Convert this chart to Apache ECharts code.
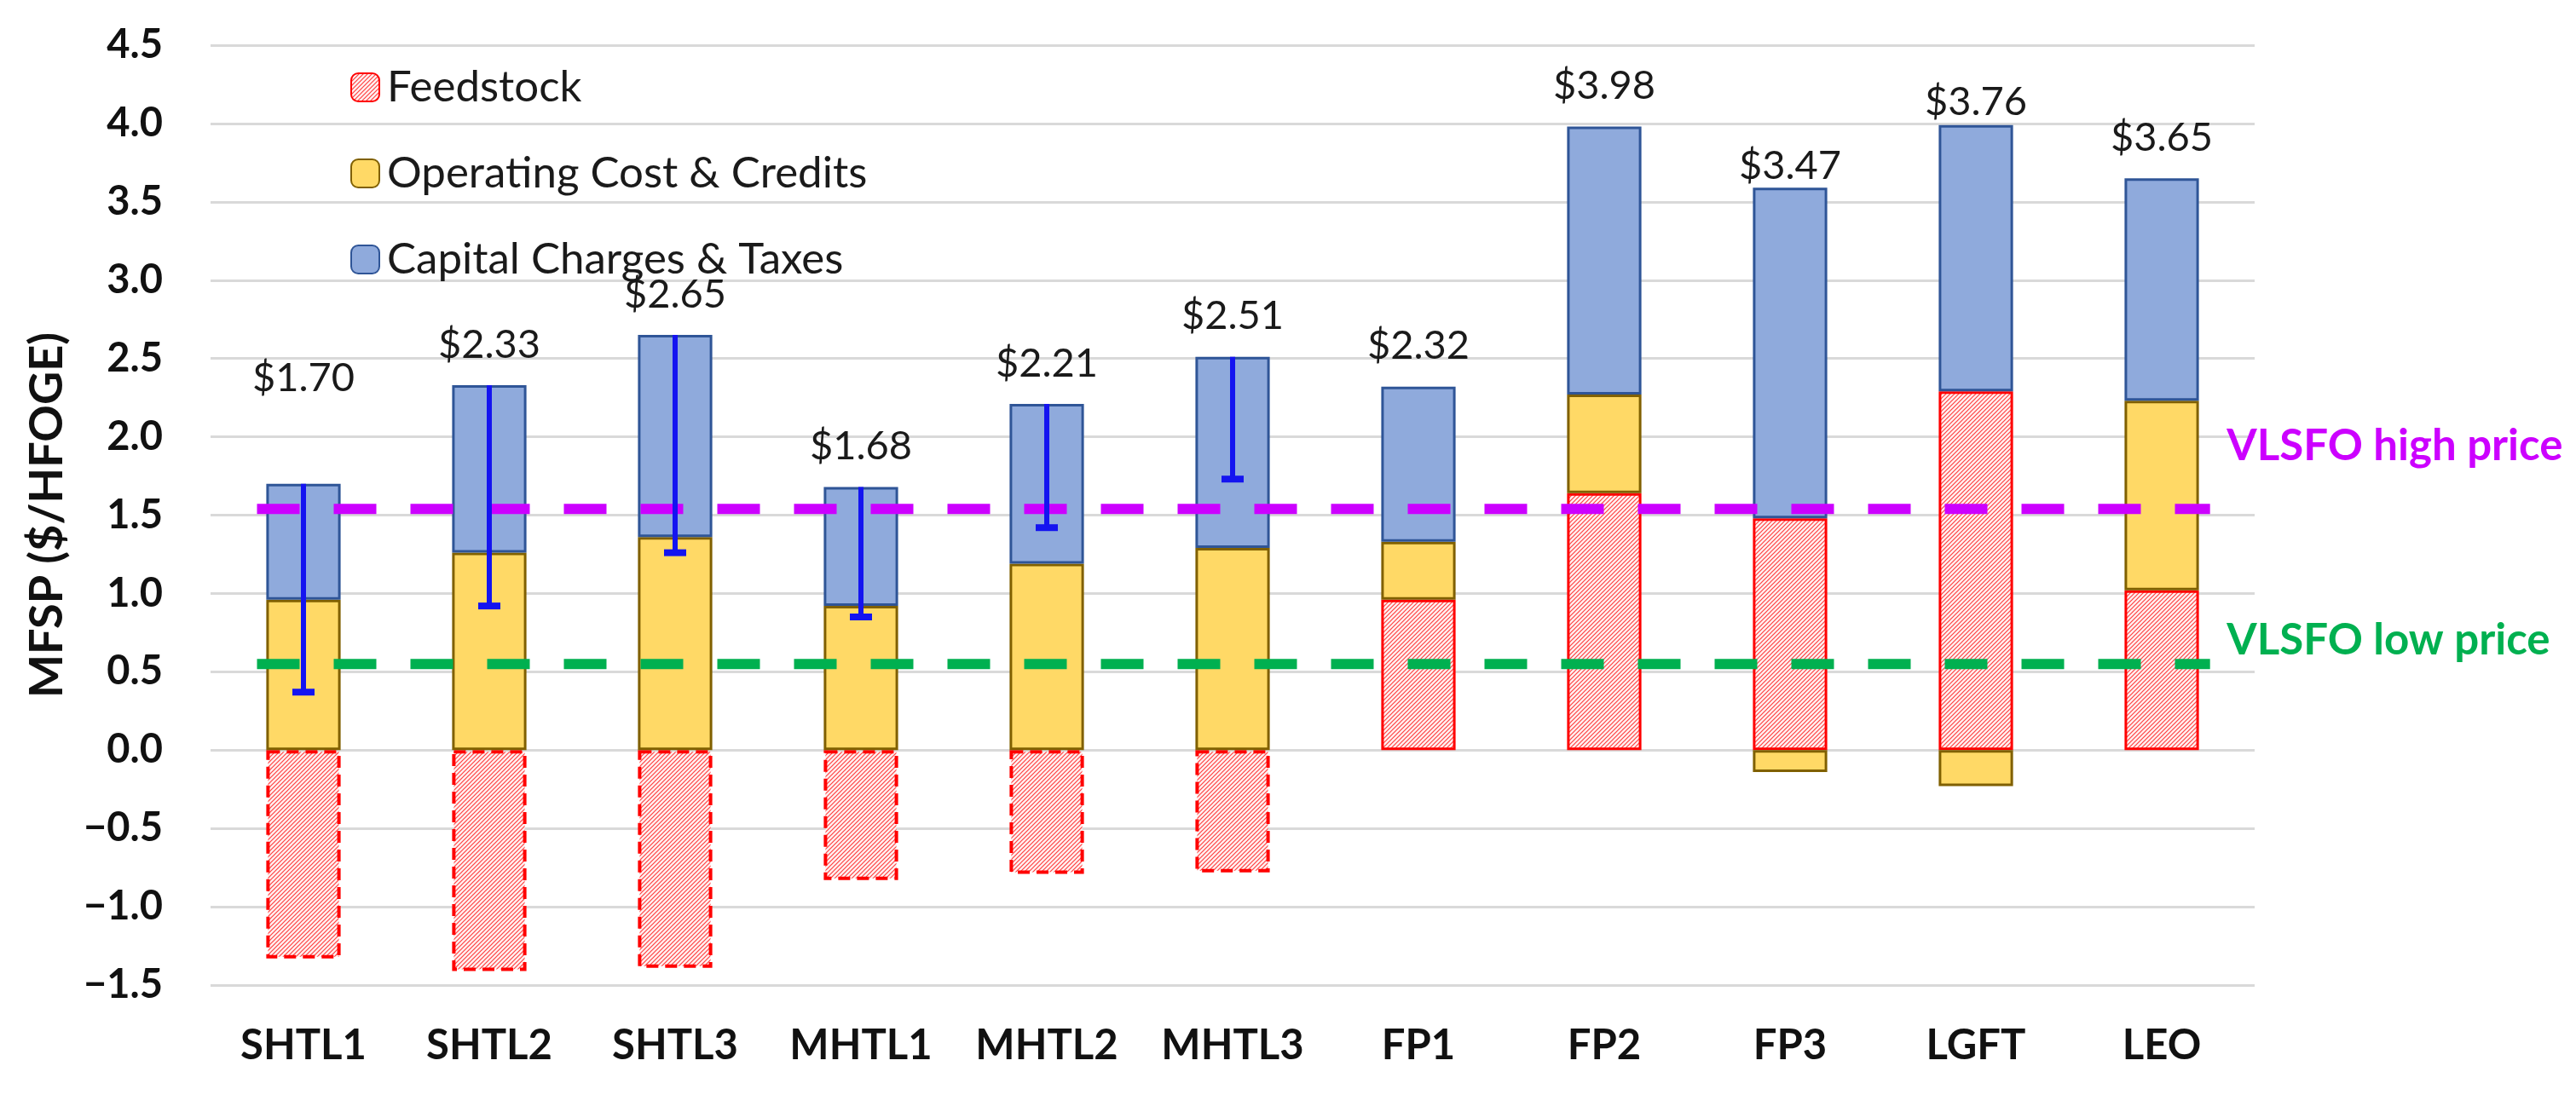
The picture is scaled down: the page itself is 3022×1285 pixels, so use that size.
<!DOCTYPE html>
<html>
<head>
<meta charset="utf-8">
<title>MFSP breakdown</title>
<script src="https://cdn.jsdelivr.net/npm/echarts@6/dist/echarts.min.js"></script>
<style>
  html, body { margin: 0; padding: 0; background: #fff; }
  #main { width: 3022px; height: 1285px; }
</style>
</head>
<body>
<div id="main"></div>
<script>
// data
var categories = ['SHTL1', 'SHTL2', 'SHTL3', 'MHTL1', 'MHTL2', 'MHTL3', 'FP1', 'FP2', 'FP3', 'LGFT', 'LEO'];
var feedstock = [-1.33, -1.41, -1.39, -0.83, -0.79, -0.78, 0.96, 1.64, 1.48, 2.29, 1.02];
var operating = [0.96, 1.26, 1.36, 0.92, 1.19, 1.29, 0.37, 0.63, -0.14, -0.23, 1.21];
var capital = [0.74, 1.07, 1.29, 0.76, 1.02, 1.22, 0.99, 1.71, 2.11, 1.70, 1.42];
var priceLabels = ['$1.70', '$2.33', '$2.65', '$1.68', '$2.21', '$2.51', '$2.32', '$3.98', '$3.47', '$3.76', '$3.65'];
var refValues = [1.54, 0.55];
var refNames = ['VLSFO high price', 'VLSFO low price'];
var yTicks = [-1.5, -1.0, -0.5, 0.0, 0.5, 1.0, 1.5, 2.0, 2.5, 3.0, 3.5, 4.0, 4.5];

var FONT = 'Lato';
var refColors = ['#CC00FF', '#00B050'];
var refTextAt = [1.94, 0.70];       // where the line captions sit (axis units)
var labelGap = { SHTL1: 100, FP3: 2, LGFT: 3 };   // hand-placed labels in the original

// red hatch for the feedstock bars
function hatch() {
  var n = 5;
  var c = document.createElement('canvas');
  c.width = n; c.height = n;
  var g = c.getContext('2d');
  g.fillStyle = '#fff2f2';
  g.fillRect(0, 0, n, n);
  g.strokeStyle = '#ff4040';
  g.lineWidth = 1.2;
  g.beginPath();
  g.moveTo(0, n); g.lineTo(n, 0);
  g.moveTo(-1, 1); g.lineTo(1, -1);
  g.moveTo(n - 1, n + 1); g.lineTo(n + 1, n - 1);
  g.stroke();
  return c;
}
var hatchFill = { image: hatch(), repeat: 'repeat' };

// positive stack top and net value, for the error bars
var errData = [];
categories.forEach(function (c, i) {
  if (feedstock[i] < 0) {
    var top = Math.max(operating[i], 0) + capital[i];
    var net = top + feedstock[i];
    errData.push([i, top, net]);
  }
});

var myChart = echarts.init(document.getElementById('main'));

var option = {
  animation: false,
  grid: { left: 247, right: 377, top: 53, bottom: 129 },
  legend: {
    orient: 'vertical',
    left: 406,
    top: 72,
    itemWidth: 33,
    itemHeight: 33,
    itemGap: 50,
    textStyle: { fontFamily: FONT, fontSize: 51, color: '#1a1a1a', lineHeight: 44, padding: [0, 0, 0, 4] },
    data: ['Feedstock', 'Operating Cost & Credits', 'Capital Charges & Taxes']
  },
  xAxis: {
    type: 'category',
    data: categories,
    position: 'bottom',
    axisLine: { show: false, onZero: false },
    axisTick: { show: false },
    axisLabel: { interval: 0, fontFamily: FONT, fontWeight: 'bold', fontSize: 49, color: '#111', margin: 47 }
  },
  yAxis: {
    type: 'value',
    min: -1.5,
    max: 4.5,
    interval: 0.5,
    name: 'MFSP ($/HFOGE)',
    nameLocation: 'middle',
    nameGap: 164,
    nameTextStyle: { fontFamily: FONT, fontWeight: 'bold', fontSize: 54, color: '#111' },
    axisLine: { show: false },
    axisTick: { show: false },
    splitLine: { lineStyle: { color: '#D9D9D9', width: 3 } },
    axisLabel: {
      fontFamily: FONT, fontWeight: 'bold', fontSize: 47, color: '#111', margin: 56,
      formatter: function (v) {
        var s = Math.abs(v).toFixed(1);
        return v < 0 ? '\u2212' + s : s;
      }
    }
  },
  series: [
    {
      name: 'Feedstock',
      type: 'bar',
      stack: 'mfsp',
      barWidth: '40%',
      itemStyle: { color: hatchFill, borderColor: '#FF0000', borderWidth: 3 },
      data: feedstock.map(function (v) {
        return { value: v, itemStyle: { borderType: v < 0 ? [14, 8] : 'solid', borderWidth: v < 0 ? 4 : 3 } };
      })
    },
    {
      name: 'Operating Cost & Credits',
      type: 'bar',
      stack: 'mfsp',
      itemStyle: { color: '#FFD966', borderColor: '#806000', borderWidth: 3 },
      data: operating
    },
    {
      name: 'Capital Charges & Taxes',
      type: 'bar',
      stack: 'mfsp',
      itemStyle: { color: '#8FAADC', borderColor: '#2F5597', borderWidth: 3 },
      data: capital.map(function (v, i) {
        var d = labelGap[categories[i]];
        return {
          value: v,
          label: {
            show: true,
            position: 'top',
            distance: d === undefined ? 24 : d,
            formatter: priceLabels[i],
            fontFamily: FONT,
            fontSize: 47,
            color: '#1a1a1a'
          }
        };
      })
    },
    {
      name: 'refLines',
      type: 'custom',
      z: 5,
      silent: true,
      data: refValues.map(function (v, i) { return [i, v]; }),
      encode: { x: 0, y: 1 },
      renderItem: function (params, api) {
        var i = api.value(0);
        var v = api.value(1);
        var band = api.size([1, 0])[0];
        var first = api.coord([0, v]);
        var last = api.coord([categories.length - 1, v]);
        var ty = api.coord([0, refTextAt[i]])[1];
        return {
          type: 'group',
          children: [
            {
              type: 'line',
              shape: { x1: first[0] - 0.25 * band, y1: first[1], x2: last[0] + 0.26 * band, y2: last[1] },
              style: { stroke: refColors[i], lineWidth: 12, lineDash: [50, 40] }
            },
            {
              type: 'text',
              x: last[0] + 0.35 * band,
              y: ty,
              style: {
                text: refNames[i],
                fill: refColors[i],
                font: 'bold 51px ' + FONT,
                verticalAlign: 'middle',
                align: 'left'
              }
            }
          ]
        };
      }
    },
    {
      name: 'errorBars',
      type: 'custom',
      z: 6,
      silent: true,
      data: errData,
      encode: { x: 0, y: [1, 2] },
      renderItem: function (params, api) {
        var i = api.value(0);
        var p1 = api.coord([i, api.value(1)]);
        var p2 = api.coord([i, api.value(2)]);
        var color = '#1414F0';
        return {
          type: 'group',
          children: [
            { type: 'line', shape: { x1: p1[0], y1: p1[1], x2: p2[0], y2: p2[1] }, style: { stroke: color, lineWidth: 6 } },
            { type: 'line', shape: { x1: p2[0] - 13, y1: p2[1], x2: p2[0] + 13, y2: p2[1] }, style: { stroke: color, lineWidth: 8 } }
          ]
        };
      }
    }
  ]
};

myChart.setOption(option);
</script>
</body>
</html>
